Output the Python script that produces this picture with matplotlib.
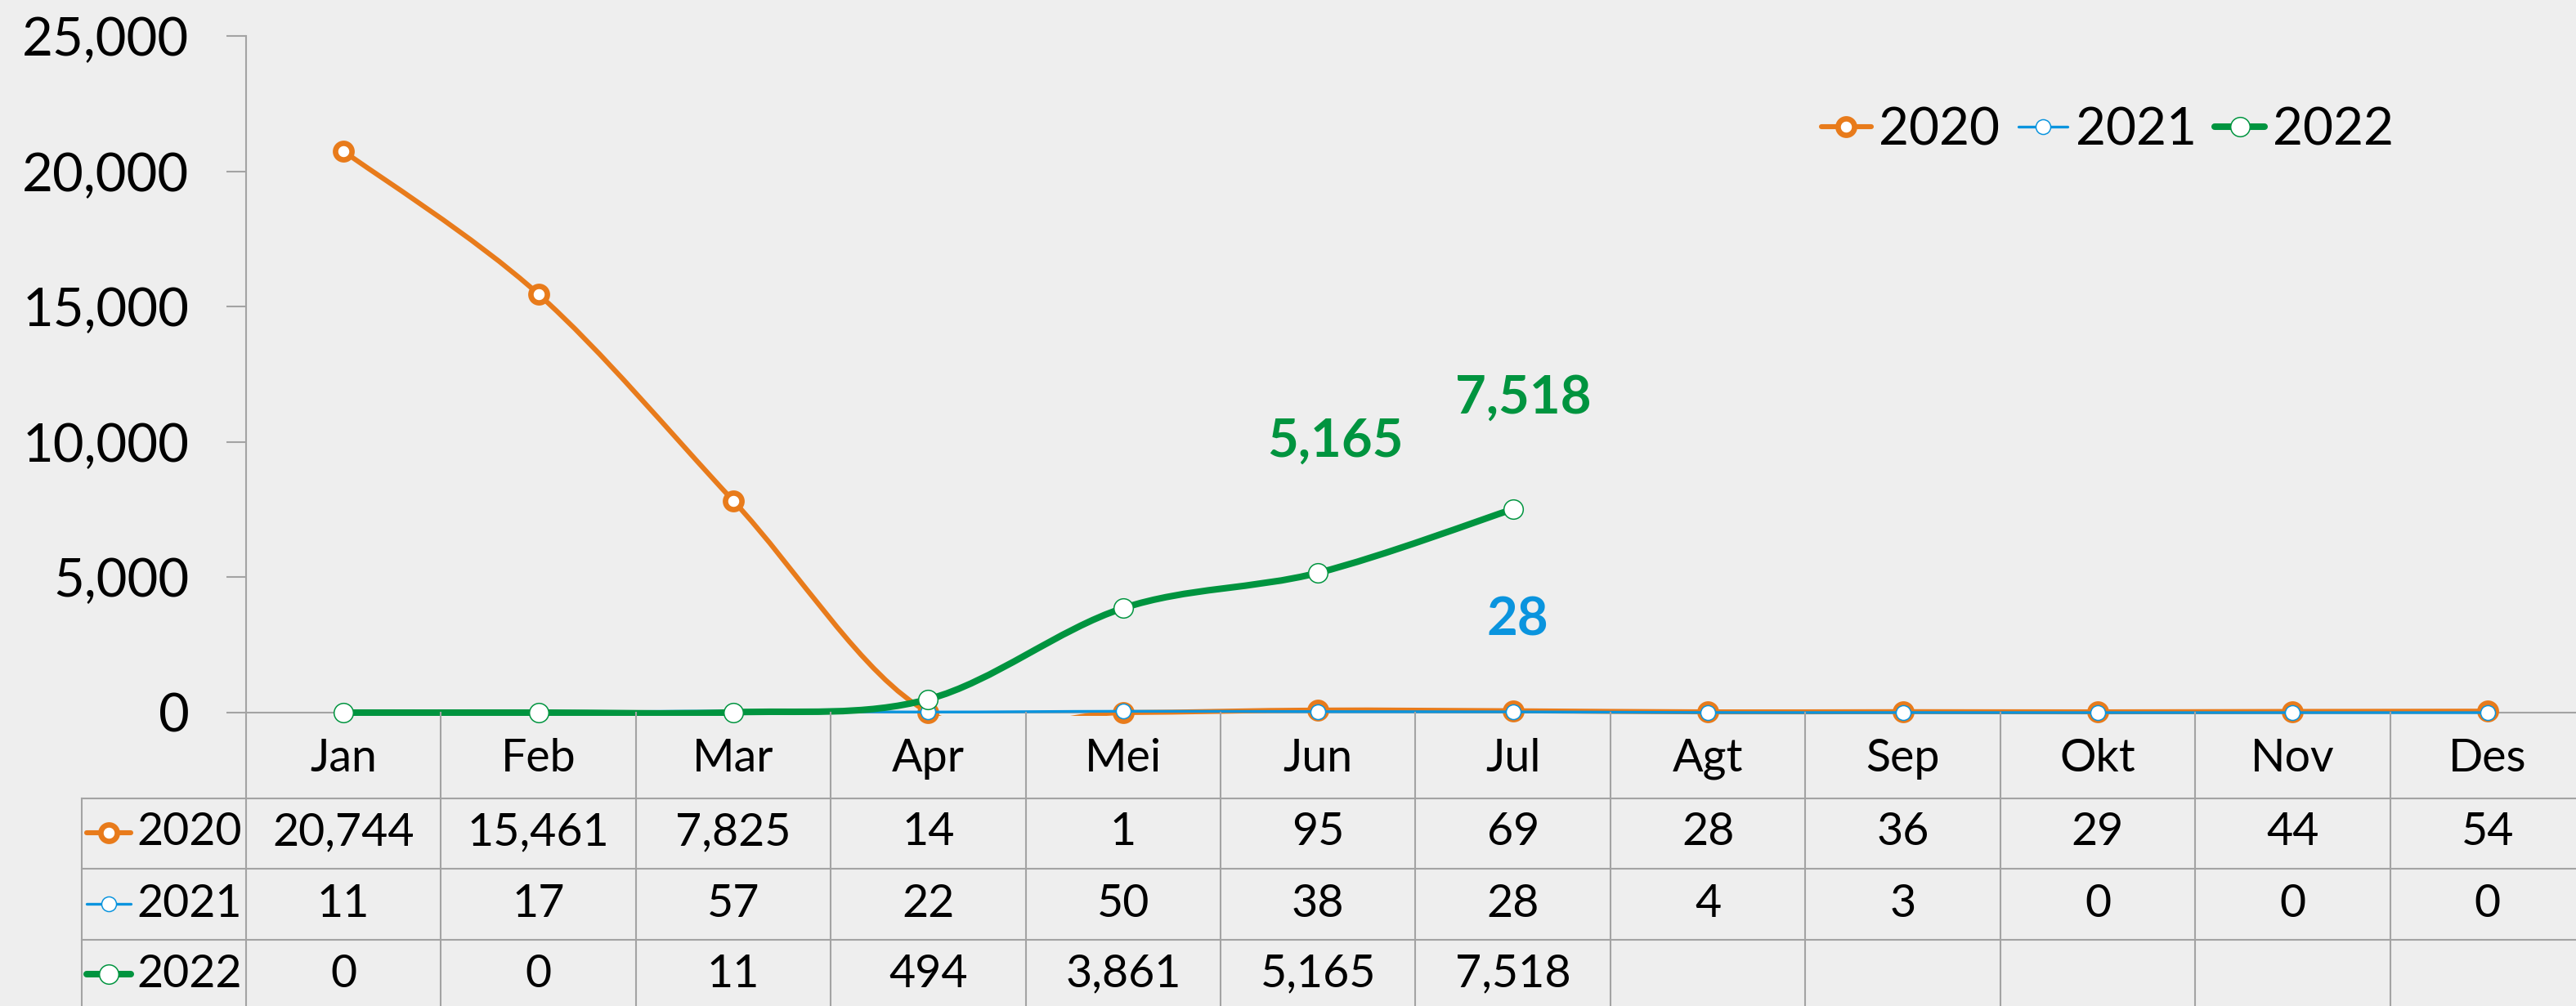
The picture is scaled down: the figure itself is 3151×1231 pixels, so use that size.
import numpy as np
import matplotlib
matplotlib.use('Agg')
import matplotlib.pyplot as plt
from matplotlib.path import Path
from matplotlib.patches import PathPatch, Rectangle
from matplotlib.lines import Line2D
import matplotlib.transforms as mtrans

# ---------------- data ----------------
months = ['Jan', 'Feb', 'Mar', 'Apr', 'Mei', 'Jun', 'Jul', 'Agt', 'Sep', 'Okt', 'Nov', 'Des']
series_names = ['2020', '2021', '2022']
v2020 = [20744, 15461, 7825, 14, 1, 95, 69, 28, 36, 29, 44, 54]
v2021 = [11, 17, 57, 22, 50, 38, 28, 4, 3, 0, 0, 0]
v2022 = [0, 0, 11, 494, 3861, 5165, 7518]
yticks = [0, 5000, 10000, 15000, 20000, 25000]
# data labels shown on the chart: (series name, month index)
shown_labels = [('2022', 5), ('2022', 6), ('2021', 6)]

# ---------------- styling ----------------
W, H = 3151, 1231
DPI = 100
BG = '#EEEEEE'
GRID = '#A3A3A3'
colors = {'2020': '#E87B1B', '2021': '#0A94DE', '2022': '#00943F'}
lws = {'2020': 4.4, '2021': 2.4, '2022': 5.8}
ms = {'2020': 14.5, '2021': 13.0, '2022': 17.0}
mews = {'2020': 4.8, '2021': 1.1, '2022': 1.1}
zs = {'2020': 3, '2021': 4, '2022': 5}
values = {'2020': v2020, '2021': v2021, '2022': v2022}
label_offsets = {('2022', 5): (15, 116), ('2022', 6): (9, 98), ('2021', 6): (4, 81)}  # points

plt.rcParams['font.family'] = ['Lato', 'DejaVu Sans']

fig = plt.figure(figsize=(W / DPI, H / DPI), dpi=DPI, facecolor=BG)

# plot area in pixel terms
x_left, x_right = 301, 3162
y_top, y_zero = 44, 872
ax = fig.add_axes([x_left / W, 1 - y_zero / H, (x_right - x_left) / W, (y_zero - y_top) / H])
ax.set_facecolor('none')
ax.set_xlim(-0.5, len(months) - 0.5)
ax.set_ylim(0, 25000)

for s in ['top', 'right']:
    ax.spines[s].set_visible(False)
for s in ['left', 'bottom']:
    ax.spines[s].set_color(GRID)
    ax.spines[s].set_linewidth(1.5)
ax.set_xticks([])
ax.set_yticks(yticks)
ax.set_yticklabels([f'{t:,}' for t in yticks])
ax.tick_params(axis='y', direction='out', length=17, width=1.5, color=GRID,
               labelsize=47, pad=33, labelcolor='black')


def smooth_path(xs, ys):
    pts = np.column_stack([xs, ys]).astype(float)
    n = len(pts)
    verts = [pts[0]]
    codes = [Path.MOVETO]
    for i in range(n - 1):
        p0 = pts[max(i - 1, 0)]
        p1 = pts[i]
        p2 = pts[i + 1]
        p3 = pts[min(i + 2, n - 1)]
        c1 = p1 + (p2 - p0) / 6.0
        c2 = p2 - (p3 - p1) / 6.0
        verts += [c1, c2, p2]
        codes += [Path.CURVE4] * 3
    return Path(verts, codes)


clip_rect = Rectangle((-0.02, -0.0045), 1.04, 1.1, transform=ax.transAxes,
                      facecolor='none', edgecolor='none')

handles = []
for name in series_names:
    vals = values[name]
    xs = np.arange(len(vals))
    c = colors[name]
    patch = PathPatch(smooth_path(xs, vals), fill=False, edgecolor=c, lw=lws[name],
                      capstyle='round', joinstyle='round', zorder=zs[name])
    ax.add_patch(patch)
    patch.set_clip_path(clip_rect)
    ax.plot(xs, vals, ls='none', marker='o', ms=ms[name], mfc='white', mec=c,
            mew=mews[name], clip_on=False, zorder=zs[name] + 0.5)
    handles.append(Line2D([], [], color=c, lw=lws[name], marker='o', ms=ms[name],
                          mfc='white', mec=c, mew=mews[name], solid_capstyle='round'))

for (name, idx) in shown_labels:
    v = values[name][idx]
    ax.annotate(f'{v:,}', xy=(idx, v), xytext=label_offsets[(name, idx)],
                textcoords='offset points', ha='center', va='center',
                fontsize=47, fontweight='bold', color=colors[name], zorder=10,
                annotation_clip=False)

fig.legend(handles, series_names, loc='center left', bbox_to_anchor=(2228 / W, 1 - 159 / H),
           ncol=3, frameon=False, fontsize=46, handlelength=0.95, handletextpad=0.15,
           columnspacing=0.35, borderpad=0, borderaxespad=0)

# ---------------- data table ----------------
px = mtrans.Affine2D().scale(1.0 / W, -1.0 / H).translate(0, 1) + fig.transFigure
bl = mtrans.blended_transform_factory(ax.transData, px)

row_lines = [977, 1063, 1150, 1237]
row_centers = [1019, 1106, 1192]
table_left = 100
bottom = 1300

# horizontal lines
for y in row_lines:
    fig.add_artist(Line2D([table_left, W + 20], [y, y], transform=px, color=GRID, lw=1.5))
# vertical lines
for k in range(len(months) + 1):
    fig.add_artist(Line2D([k - 0.5, k - 0.5], [y_zero, bottom], transform=bl, color=GRID, lw=1.5))
fig.add_artist(Line2D([table_left, table_left], [row_lines[0], bottom], transform=px, color=GRID, lw=1.5))

# month header
for i, m in enumerate(months):
    fig.text(i, 928, m, transform=bl, ha='center', va='center', fontsize=40)

# rows
for r, name in enumerate(series_names):
    yc = row_centers[r]
    c = colors[name]
    fig.add_artist(Line2D([106, 160], [yc, yc], transform=px, color=c, lw=lws[name],
                          solid_capstyle='round'))
    fig.add_artist(Line2D([133], [yc], transform=px, ls='none', marker='o', ms=ms[name],
                          mfc='white', mec=c, mew=mews[name]))
    fig.text(167, yc, name, transform=px, ha='left', va='center', fontsize=40)
    for i, v in enumerate(values[name]):
        fig.text(i, yc, f'{v:,}', transform=bl, ha='center', va='center', fontsize=40)

fig.savefig('out.png', dpi=DPI, facecolor=BG)
